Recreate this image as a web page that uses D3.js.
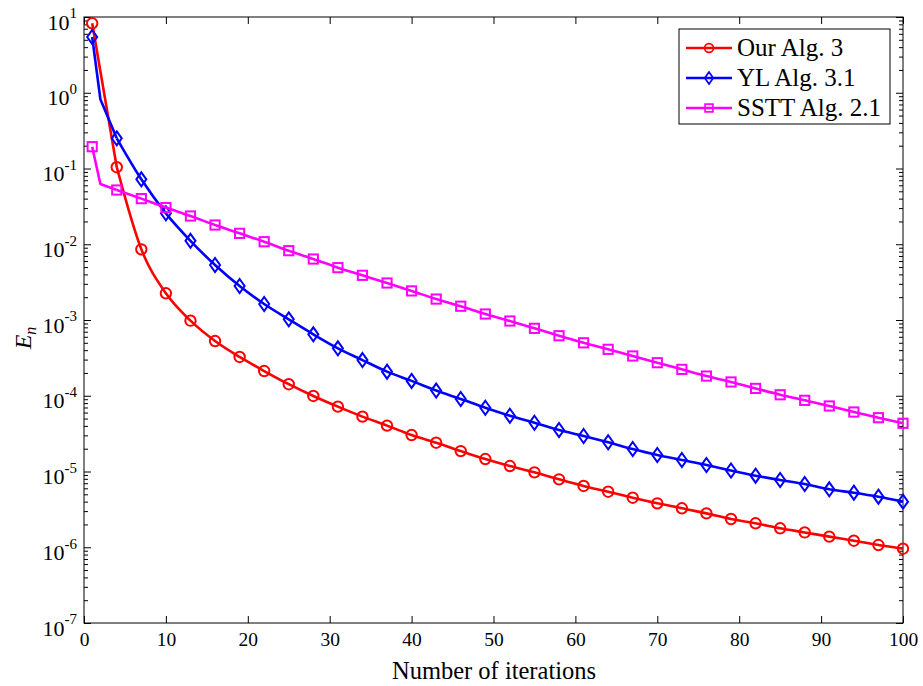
<!DOCTYPE html>
<html><head><meta charset="utf-8">
<script src="https://cdn.jsdelivr.net/npm/d3@7"></script>
<style>body{margin:0;background:#fff}svg{display:block}</style>
</head><body><svg id="c" width="923" height="686"></svg>
<script>
// ---- data ----
const iterations = [1,4,7,10,13,16,19,22,25,28,31,34,37,40,43,46,49,52,55,58,61,64,67,70,73,76,79,82,85,88,91,94,97,100];
const ourAlg = [8.26,0.104,0.00857,0.00225,9.8e-4,5.28e-4,3.25e-4,2.12e-4,1.42e-4,9.93e-5,7.18e-5,5.3e-5,4.03e-5,3.03e-5,2.4e-5,1.86e-5,1.46e-5,1.18e-5,9.75e-6,7.88e-6,6.44e-6,5.41e-6,4.51e-6,3.8e-6,3.27e-6,2.8e-6,2.36e-6,2.07e-6,1.78e-6,1.57e-6,1.38e-6,1.22e-6,1.07e-6,9.57e-7];
const ylAlg = [5.45,0.25,0.072,0.0256,0.0111,0.00532,0.00281,0.001625,0.00102,6.47e-4,4.23e-4,2.96e-4,2.08e-4,1.57e-4,1.17e-4,9.06e-5,6.95e-5,5.45e-5,4.4e-5,3.53e-5,2.94e-5,2.43e-5,1.98e-5,1.65e-5,1.42e-5,1.22e-5,1.03e-5,8.8e-6,7.73e-6,6.84e-6,5.82e-6,5.25e-6,4.65e-6,4.0e-6];
const ssttAlg = [0.194,0.052,0.04,0.0305,0.0236,0.01795,0.01393,0.0108,0.00822,0.00638,0.00491,0.00389,0.00308,0.00242,0.00189,0.00152,0.0012,9.7e-4,7.76e-4,6.2e-4,5e-4,4.1e-4,3.35e-4,2.73e-4,2.23e-4,1.82e-4,1.52e-4,1.25e-4,1.03e-4,8.7e-5,7.33e-5,6.1e-5,5.13e-5,4.33e-5];
// extra (unmarked) line points at iteration 2
const ylAt2 = 0.82;
const ssttAt2 = 0.0623;
const seriesNames = ["Our Alg. 3","YL Alg. 3.1","SSTT Alg. 2.1"];
const seriesColors = ["#ff0000","#0000ff","#ff00ff"];
const seriesMarkers = ["circle","diamond","square"];
const xTicks = [0,10,20,30,40,50,60,70,80,90,100];
const yExponents = [-7,-6,-5,-4,-3,-2,-1,0,1];
const xLabel = "Number of iterations";

// ---- layout ----
const L=84,R=903,T=17,B=623;
const FONT='"Liberation Serif", "Times New Roman", serif';
const svg=d3.select("#c").style("font-family",FONT);
const x=d3.scaleLinear().domain([0,100]).range([L,R]);
const y=d3.scaleLog().domain([1e-7,10]).range([B,T]);

function build(vals, extraX, extraV){
  const pts=iterations.map((n,i)=>({n,v:vals[i],m:true}));
  if(extraX!=null) pts.push({n:extraX,v:extraV,m:false});
  return pts.sort((a,b)=>a.n-b.n);
}
const series=[build(ourAlg),build(ylAlg,2,ylAt2),build(ssttAlg,2,ssttAt2)];

const g=svg.append("g");
function styleAxis(sel){sel.select(".domain").remove();sel.attr("font-family",null).style("font-family",FONT);sel.selectAll("line").attr("stroke","#000").attr("stroke-width",1);sel.selectAll("text").attr("fill","#000").attr("font-size",19.5);}
const minor=[];
for(let e=-7;e<1;e++){for(let k=2;k<=9;k++)minor.push(k*Math.pow(10,e));}
const majors=yExponents.map(e=>Math.pow(10,e));

const gxB=g.append("g").attr("transform",`translate(0,${B})`).call(d3.axisBottom(x).tickValues(xTicks).tickSize(-7).tickPadding(9).tickFormat(d3.format("d")));
styleAxis(gxB);
const gxT=g.append("g").attr("transform",`translate(0,${T})`).call(d3.axisTop(x).tickValues(xTicks).tickSize(-7).tickFormat(""));
styleAxis(gxT);
const gyL=g.append("g").attr("transform",`translate(${L},0)`).call(d3.axisLeft(y).tickValues(majors).tickSize(-7).tickPadding(7).tickFormat(""));
styleAxis(gyL);
gyL.selectAll(".tick text").each(function(d){
  const t=d3.select(this);t.text("10").attr("font-size",22).attr("dy","0.55em");
  t.append("tspan").attr("dy","-0.75em").attr("font-size",15).text(Math.round(Math.log10(d)));
});
const gyLm=g.append("g").attr("transform",`translate(${L},0)`).call(d3.axisLeft(y).tickValues(minor).tickSize(-4).tickFormat(""));
styleAxis(gyLm);
const gyR=g.append("g").attr("transform",`translate(${R},0)`).call(d3.axisRight(y).tickValues(majors).tickSize(-7).tickFormat(""));
styleAxis(gyR);
const gyRm=g.append("g").attr("transform",`translate(${R},0)`).call(d3.axisRight(y).tickValues(minor).tickSize(-4).tickFormat(""));
styleAxis(gyRm);
g.append("rect").attr("x",L).attr("y",T).attr("width",R-L).attr("height",B-T).attr("fill","none").attr("stroke","#000").attr("stroke-width",1);

// lines: straight start segments (n<=4), smooth afterwards
const lineLin=d3.line().x(d=>x(d.n)).y(d=>y(d.v));
const lineSmooth=d3.line().x(d=>x(d.n)).y(d=>y(d.v)).curve(d3.curveMonotoneX);
function marker(sel,type,color){
  if(type==="circle") sel.append("circle").attr("r",5.2);
  else if(type==="square") sel.append("rect").attr("x",-4.6).attr("y",-4.6).attr("width",9.2).attr("height",9.2);
  else sel.append("path").attr("d","M0,-7L5,0L0,7L-5,0Z");
  sel.selectAll("*").attr("fill","none").attr("stroke",color).attr("stroke-width",2);
}
series.forEach((pts,i)=>{
  const c=seriesColors[i];
  svg.append("path").attr("d",lineLin(pts.filter(p=>p.n<=4))).attr("fill","none").attr("stroke",c).attr("stroke-width",2.6).attr("stroke-linejoin","round");
  svg.append("path").attr("d",lineSmooth(pts.filter(p=>p.n>=4))).attr("fill","none").attr("stroke",c).attr("stroke-width",2.6).attr("stroke-linejoin","round");
  pts.filter(p=>p.m).forEach(p=>{
    const m=svg.append("g").attr("transform",`translate(${x(p.n)},${y(p.v)})`);
    marker(m,seriesMarkers[i],c);
  });
});

// labels
svg.append("text").attr("x",494).attr("y",679).attr("text-anchor","middle").attr("font-size",24.5).text(xLabel);
const yl=svg.append("text").attr("transform","translate(31,338) rotate(-90)").attr("text-anchor","middle").attr("font-size",24);
yl.append("tspan").attr("font-style","italic").text("E");
yl.append("tspan").attr("font-style","italic").attr("font-size",16).attr("dy","0.3em").text("n");

// legend
const lg=svg.append("g");
lg.append("rect").attr("x",679).attr("y",29).attr("width",211).attr("height",95).attr("fill","#fff").attr("stroke","#000").attr("stroke-width",1);
seriesNames.forEach((nm,i)=>{
  const yy=48+i*30;
  lg.append("line").attr("x1",686).attr("x2",732).attr("y1",yy).attr("y2",yy).attr("stroke",seriesColors[i]).attr("stroke-width",2.6);
  const m=lg.append("g").attr("transform",`translate(709,${yy})`);
  marker(m,seriesMarkers[i],seriesColors[i]);
  m.select("*").attr("transform","scale(0.85)");
  lg.append("text").attr("x",737).attr("y",yy+8).attr("font-size",25).text(nm);
});
</script></body></html>
